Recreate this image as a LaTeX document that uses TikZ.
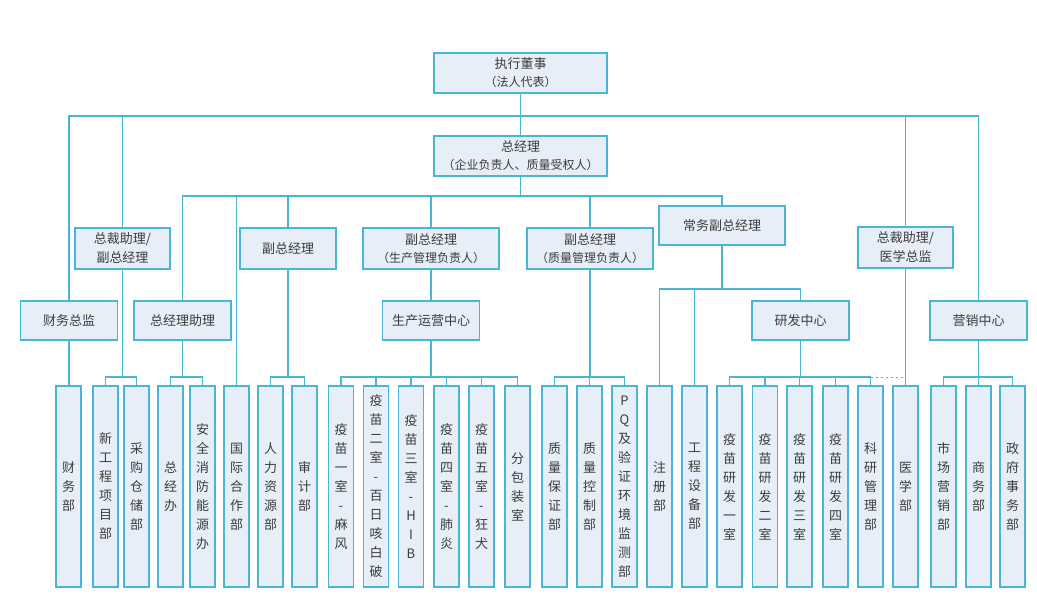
\documentclass[tikz,border=0pt]{standalone}
\usepackage{fontspec}
\newfontfamily\cjk{Noto Sans CJK SC}
\usetikzlibrary{positioning}
\definecolor{orgline}{RGB}{72,182,216}
\definecolor{orgfill}{RGB}{232,238,248}
\definecolor{orgtext}{RGB}{60,60,60}
\newcommand{\orgsub}[1]{{\fontsize{12}{14}\selectfont #1}}

\begin{document}
\begin{tikzpicture}[x=1pt,y=-1pt,
  unit/.style={draw=orgline,line width=1.2pt,fill=orgfill,inner sep=0pt,align=center,text=orgtext,font=\cjk\fontsize{13}{19}\selectfont},
  mid/.style={unit,minimum width=97pt,minimum height=39pt},
  dept/.style={unit,minimum width=25pt,minimum height=201pt},
  link/.style={draw=orgline,line width=1.2pt},
  hint/.style={draw=orgline,line width=1pt,dash pattern=on 2pt off 3pt}
]
\useasboundingbox (0,0) rectangle (1037,614);

% top of the chart
\node[unit,minimum width=173pt,minimum height=40pt] (dsh) at (520.5,73) {执行董事\\[-1pt]\orgsub{（法人代表）}};
\node[unit,minimum width=173pt,minimum height=40pt] (zjl) at (520.5,156) {总经理\\[-1pt]\orgsub{（企业负责人、质量受权人）}};

% second level
\node[unit,minimum width=95pt,minimum height=41pt] (zc1) at (122.5,248.5) {总裁助理/\\副总经理};
\node[unit,minimum width=96pt,minimum height=41pt] (fz1) at (288,248.5) {副总经理};
\node[unit,minimum width=136pt,minimum height=41pt] (fz2) at (431,248.5) {副总经理\\[-1pt]\orgsub{（生产管理负责人）}};
\node[unit,minimum width=126pt,minimum height=41pt] (fz3) at (590,248.5) {副总经理\\[-1pt]\orgsub{（质量管理负责人）}};
\node[unit,minimum width=126pt,minimum height=39pt] (cwf) at (722,225.5) {常务副总经理};
\node[unit,minimum width=95pt,minimum height=41pt] (zc2) at (905.5,247.5) {总裁助理/\\医学总监};

% centres and heads
\node[mid] (cwzj) at (69,320.5)    {财务总监};
\node[mid] (zlzl) at (182.5,320.5) {总经理助理};
\node[mid] (scyy) at (431,320.5)   {生产运营中心};
\node[mid] (yfzx) at (800.5,320.5) {研发中心};
\node[mid] (yxzx) at (978.5,320.5) {营销中心};

% departments (bottom row)
\node[dept] (d1)  at (68.5,486.5)  {财\\务\\部};
\node[dept] (d2)  at (105.5,486.5) {新\\工\\程\\项\\目\\部};
\node[dept] (d3)  at (136.5,486.5) {采\\购\\仓\\储\\部};
\node[dept] (d4)  at (170.5,486.5) {总\\经\\办};
\node[dept] (d5)  at (202.5,486.5) {安\\全\\消\\防\\能\\源\\办};
\node[dept] (d6)  at (236.5,486.5) {国\\际\\合\\作\\部};
\node[dept] (d7)  at (270.5,486.5) {人\\力\\资\\源\\部};
\node[dept] (d8)  at (304.5,486.5) {审\\计\\部};
\node[dept] (d9)  at (341,486.5)   {疫\\苗\\一\\室\\-\\麻\\风};
\node[dept] (d10) at (376,486.5)   {疫\\苗\\二\\室\\-\\百\\日\\咳\\白\\破};
\node[dept] (d11) at (411,486.5)   {疫\\苗\\三\\室\\-\\H\\I\\B};
\node[dept] (d12) at (446.5,486.5) {疫\\苗\\四\\室\\-\\肺\\炎};
\node[dept] (d13) at (481.5,486.5) {疫\\苗\\五\\室\\-\\狂\\犬};
\node[dept] (d14) at (517.5,486.5) {分\\包\\装\\室};
\node[dept] (d15) at (554.5,486.5) {质\\量\\保\\证\\部};
\node[dept] (d16) at (589.5,486.5) {质\\量\\控\\制\\部};
\node[dept] (d17) at (624.5,486.5) {P\\Q\\及\\验\\证\\环\\境\\监\\测\\部};
\node[dept] (d18) at (659.5,486.5) {注\\册\\部};
\node[dept] (d19) at (694.5,486.5) {工\\程\\设\\备\\部};
\node[dept] (d20) at (729.5,486.5) {疫\\苗\\研\\发\\一\\室};
\node[dept] (d21) at (765,486.5)   {疫\\苗\\研\\发\\二\\室};
\node[dept] (d22) at (799.5,486.5) {疫\\苗\\研\\发\\三\\室};
\node[dept] (d23) at (835.5,486.5) {疫\\苗\\研\\发\\四\\室};
\node[dept] (d24) at (870.5,486.5) {科\\研\\管\\理\\部};
\node[dept] (d25) at (905.5,486.5) {医\\学\\部};
\node[dept] (d26) at (943.5,486.5) {市\\场\\营\\销\\部};
\node[dept] (d27) at (978.5,486.5) {商\\务\\部};
\node[dept] (d28) at (1012.5,486.5) {政\\府\\事\\务\\部};

% bus levels
\coordinate (busa) at (520,116);
\coordinate (busb) at (520,196);
\coordinate (rowc) at (0,289);
\coordinate (rowb) at (0,377);

% upper connectors
\draw[link] (dsh) -- (zjl);
\draw[link] (cwzj.north) -- (cwzj.north|-busa) -| (yxzx.north);
\draw[link] (zc1.north) -- (zc1.north|-busa);
\draw[link] (zc2.north) -- (zc2.north|-busa);
\draw[link] (zjl.south) -- (zjl.south|-busb);
\draw[link] (zlzl.north) -- (zlzl.north|-busb) -| (cwf.north);
\draw[link] (d6.north) -- (d6.north|-busb);
\draw[link] (fz1.north) -- (fz1.north|-busb);
\draw[link] (fz2.north) -- (fz2.north|-busb);
\draw[link] (fz3.north) -- (fz3.north|-busb);

% lower connectors
\draw[link] (cwzj.south) -- (cwzj.south|-d1.north);
\draw[link] (zc1.south) -- (zc1.south|-rowb);
\draw[link] (d2.north) -- (d2.north|-rowb) -| (d3.north);
\draw[link] (zlzl.south) -- (zlzl.south|-rowb);
\draw[link] (d4.north) -- (d4.north|-rowb) -| (d5.north);
\draw[link] (fz1.south) -- (fz1.south|-rowb);
\draw[link] (d7.north) -- (d7.north|-rowb) -| (d8.north);
\draw[link] (fz2) -- (scyy);
\draw[link] (scyy.south) -- (scyy.south|-rowb);
\draw[link] (d9.north) -- (d9.north|-rowb) -| (d14.north);
\foreach \i in {10,...,13} \draw[link] (d\i.north) -- (d\i.north|-rowb);
\draw[link] (fz3.south) -- (fz3.south|-rowb);
\draw[link] (d15.north) -- (d15.north|-rowb) -| (d17.north);
\draw[link] (d16.north) -- (d16.north|-rowb);
\draw[link] (cwf.south) -- (cwf.south|-rowc);
\draw[link] (d18.north) -- (d18.north|-rowc) -| (yfzx.north);
\draw[link] (d19.north) -- (d19.north|-rowc);
\draw[link] (yfzx.south) -- (yfzx.south|-rowb);
\draw[link] (d20.north) -- (d20.north|-rowb) -| (d24.north);
\foreach \i in {21,...,23} \draw[link] (d\i.north) -- (d\i.north|-rowb);
\draw[hint] (d24.north|-rowb) -- (zc2.south|-rowb);
\draw[link] (zc2.south) -- (d25.north);
\draw[link] (yxzx.south) -- (yxzx.south|-rowb);
\draw[link] (d26.north) -- (d26.north|-rowb) -| (d28.north);
\draw[link] (d27.north) -- (d27.north|-rowb);
\end{tikzpicture}
\end{document}
